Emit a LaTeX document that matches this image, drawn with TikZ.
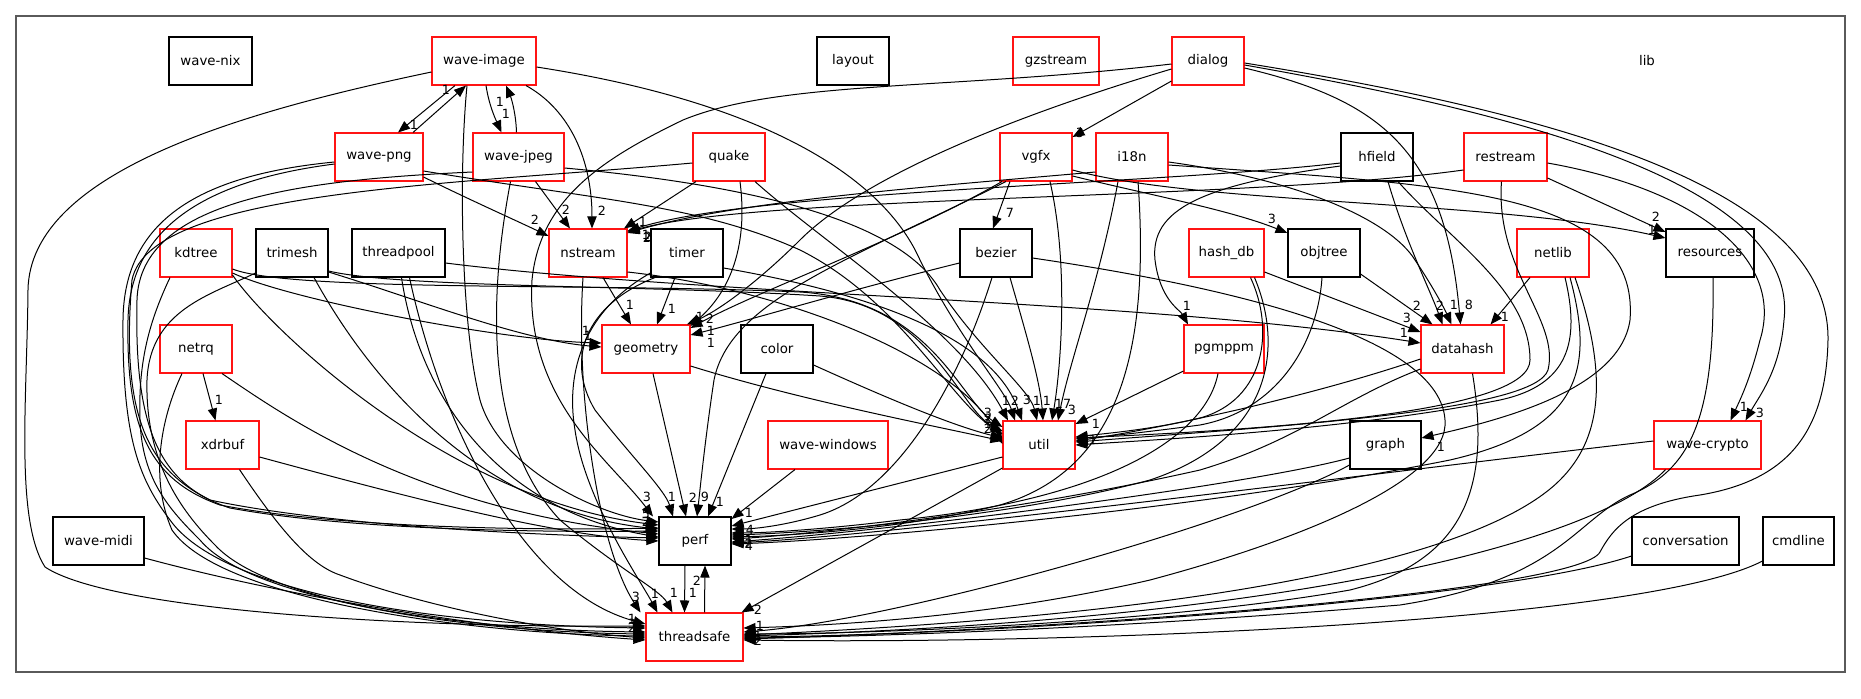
\documentclass[tikz,border=0pt]{standalone}
\usepackage{fontspec}
\setmainfont{DejaVu Sans}
\usetikzlibrary{arrows.meta}
\definecolor{framegray}{RGB}{90,90,90}
\definecolor{nodered}{RGB}{255,20,20}
\begin{document}
\begin{tikzpicture}[x=0.75pt,y=-0.75pt,
  box/.style={draw=black,line width=0.8pt,fill=white,minimum height=36pt,inner sep=2pt,font=\fontsize{10}{12}\selectfont},
  rbox/.style={box,draw=nodered},
  e/.style={draw=black,line width=0.75pt,-{Triangle[length=9pt,width=7pt]}},
  lbl/.style={font=\fontsize{9.5}{11}\selectfont,inner sep=0pt},
  frm/.style={draw=framegray,line width=1pt}]
\useasboundingbox (0,0) rectangle (1861,699);
\draw[frm] (16,16) rectangle (1845,672);
\node[font=\fontsize{10}{12}\selectfont] (lib) at (1647,61) {lib};
% row 1
\node[box,minimum width=62.25pt] (wnix) at (210.5,61) {wave-nix};
\node[rbox,minimum width=78pt] (wimg) at (484,61) {wave-image};
\node[box,minimum width=54pt] (layout) at (853,61) {layout};
\node[rbox,minimum width=64.5pt] (gz) at (1056,61) {gzstream};
\node[rbox,minimum width=54pt] (dialog) at (1208,61) {dialog};
% row 2
\node[rbox,minimum width=66pt] (wpng) at (379,157) {wave-png};
\node[rbox,minimum width=68.25pt] (wjpeg) at (518.5,157) {wave-jpeg};
\node[rbox,minimum width=54pt] (quake) at (729,157) {quake};
\node[rbox,minimum width=54pt] (vgfx) at (1036,157) {vgfx};
\node[rbox,minimum width=54pt] (i18n) at (1132,157) {i18n};
\node[box,minimum width=54pt] (hfield) at (1377,157) {hfield};
\node[rbox,minimum width=62.25pt] (restream) at (1505.5,157) {restream};
% row 3
\node[rbox,minimum width=54pt] (kdtree) at (196,253) {kdtree};
\node[box,minimum width=54pt] (trimesh) at (292,253) {trimesh};
\node[box,minimum width=69.75pt] (tpool) at (398.5,253) {threadpool};
\node[rbox,minimum width=58.5pt] (nstream) at (588,253) {nstream};
\node[box,minimum width=54pt] (timer) at (687,253) {timer};
\node[box,minimum width=54pt] (bezier) at (996,253) {bezier};
\node[rbox,minimum width=56.25pt] (hashdb) at (1226.5,253) {hash\_db};
\node[box,minimum width=54pt] (objtree) at (1324,253) {objtree};
\node[rbox,minimum width=54pt] (netlib) at (1553,253) {netlib};
\node[box,minimum width=66pt] (resources) at (1710,253) {resources};
% row 4
\node[rbox,minimum width=54pt] (netrq) at (196,349) {netrq};
\node[rbox,minimum width=66pt] (geometry) at (646,349) {geometry};
\node[box,minimum width=54pt] (color) at (777,349) {color};
\node[rbox,minimum width=60pt] (pgmppm) at (1224,349) {pgmppm};
\node[rbox,minimum width=62.25pt] (datahash) at (1462.5,349) {datahash};
% row 5
\node[rbox,minimum width=54.75pt] (xdrbuf) at (222.5,445) {xdrbuf};
\node[rbox,minimum width=90pt] (wwin) at (828,445) {wave-windows};
\node[rbox,minimum width=54pt] (util) at (1039,445) {util};
\node[box,minimum width=53.25pt] (graph) at (1385.5,445) {graph};
\node[rbox,minimum width=80.25pt] (wcrypto) at (1707.5,445) {wave-crypto};
% row 6
\node[box,minimum width=68.25pt] (wmidi) at (98.5,541) {wave-midi};
\node[box,minimum width=54pt] (perf) at (695,541) {perf};
\node[box,minimum width=80.25pt] (conv) at (1685.5,541) {conversation};
\node[box,minimum width=53.25pt] (cmdline) at (1798.5,541) {cmdline};
% row 7
\node[rbox,minimum width=72.75pt] (tsafe) at (694.5,637) {threadsafe};

% ---- edges: top part
\draw[e] ([shift={(-29,0)}]wimg.south) -- ([shift={(19,0)}]wpng.north) node[lbl,at={(414,125)}]{1};
\draw[e] ([shift={(34,0)}]wpng.north) -- ([shift={(-18,0)}]wimg.south) node[lbl,at={(446,90)}]{1};
\draw[e] ([shift={(2,0)}]wimg.south) .. controls (489,105) and (495,118) .. ([shift={(-17,0)}]wjpeg.north) node[lbl,at={(506,114)}]{1};
\draw[e] ([shift={(-2,0)}]wjpeg.north) .. controls (516,115) and (512,100) .. ([shift={(22,0)}]wimg.south) node[lbl,at={(500,102)}]{1};
\draw[e] ([shift={(42,0)}]wimg.south) .. controls (570,110) and (592,160) .. ([shift={(4,0)}]nstream.north) node[lbl,at={(602,211)}]{2};
\draw[e] ([shift={(0,20)}]wpng.east) .. controls (470,200) and (515,220) .. ([shift={(0,-17)}]nstream.west) node[lbl,at={(535,220)}]{2};
\draw[e] ([shift={(17,0)}]wjpeg.south) -- ([shift={(-18,0)}]nstream.north) node[lbl,at={(566,210)}]{2};
\draw[e] ([shift={(-33,0)}]quake.south) -- ([shift={(36,0)}]nstream.north) node[lbl,at={(643,222)}]{1};
\draw[e] ([shift={(0,6)}]hfield.west) .. controls (1150,185) and (760,190) .. ([shift={(0,-22)}]nstream.east) node[lbl,at={(646,235)}]{1};
\draw[e] ([shift={(0,13)}]restream.west) .. controls (1250,200) and (760,195) .. ([shift={(0,-21)}]nstream.east) node[lbl,at={(648,237)}]{2};
\draw[e] ([shift={(0,15)}]i18n.west) .. controls (950,185) and (740,200) .. ([shift={(0,-20)}]nstream.east) node[lbl,at={(647,238)}]{2};
\draw[e] ([shift={(0,20)}]dialog.west) -- ([shift={(0,-20)}]vgfx.east) node[lbl,at={(1080,133)}]{3};
\draw[e] ([shift={(0,8)}]dialog.west) .. controls (1000,120) and (860,180) .. (800,240) .. controls (760,280) and (720,310) .. ([shift={(41,0)}]geometry.north) node[lbl,at={(700,317)}]{1};
\draw[e] ([shift={(0,3)}]dialog.west) .. controls (950,90) and (780,80) .. (683,120) .. controls (600,160) and (540,200) .. (532,280) .. controls (525,400) and (610,460) .. ([shift={(-42,0)}]perf.north) node[lbl,at={(647,497)}]{3};
\draw[e] ([shift={(0,7)}]dialog.east) .. controls (1380,100) and (1445,150) .. ([shift={(-2,0)}]datahash.north) node[lbl,at={(1469,305)}]{8};
\draw[e] ([shift={(0,4)}]dialog.east) .. controls (1500,110) and (1800,180) .. (1784,320) .. controls (1780,370) and (1760,395) .. ([shift={(38,0)}]wcrypto.north) node[lbl,at={(1760,413)}]{3};
\draw[e] ([shift={(0,2)}]dialog.east) .. controls (1600,120) and (1830,200) .. (1828,340) .. controls (1826,430) and (1790,480) .. (1700,495) .. controls (1630,505) and (1612,530) .. (1600,552) .. controls (1580,590) and (1100,628) .. ([shift={(0,2)}]tsafe.east);
\draw[e] ([shift={(-26,0)}]vgfx.south) -- ([shift={(-3,0)}]bezier.north) node[lbl,at={(1010,213)}]{7};
\draw[e] ([shift={(0,19)}]vgfx.east) .. controls (1150,195) and (1230,210) .. ([shift={(0,-20)}]objtree.west) node[lbl,at={(1272,219)}]{3};
\draw[e] ([shift={(0,13)}]vgfx.east) .. controls (1200,205) and (1500,200) .. ([shift={(0,-15)}]resources.west) node[lbl,at={(1652,230)}]{1};
\draw[e] ([shift={(-34,0)}]vgfx.south) .. controls (900,240) and (760,290) .. ([shift={(0,-21)}]geometry.east) node[lbl,at={(710,319)}]{2};
\draw[e] ([shift={(14,0)}]vgfx.south) .. controls (1068,260) and (1062,360) .. ([shift={(13,0)}]util.north) node[lbl,at={(1063,404)}]{17};
\draw[e] ([shift={(-30,0)}]vgfx.south) .. controls (850,260) and (730,300) .. (714,380) .. controls (705,440) and (700,490) .. ([shift={(2,0)}]perf.north) node[lbl,at={(705,497)}]{9};
\draw[e] ([shift={(-14,0)}]i18n.south) .. controls (1100,280) and (1070,360) .. ([shift={(19,0)}]util.north) node[lbl,at={(1072,410)}]{3};
\draw[e] ([shift={(6,0)}]i18n.south) .. controls (1150,350) and (1120,470) .. (1000,505) .. controls (900,530) and (780,536) .. ([shift={(0,-4)}]perf.east);
\draw[e] ([shift={(0,5)}]i18n.east) .. controls (1300,180) and (1390,220) .. (1415,260) .. controls (1435,290) and (1445,310) .. ([shift={(-11,0)}]datahash.north) node[lbl,at={(1454,305)}]{1};
\draw[e] ([shift={(0,8)}]i18n.east) .. controls (1450,185) and (1640,190) .. (1630,320) .. controls (1620,390) and (1500,420) .. ([shift={(0,-7)}]graph.east) node[lbl,at={(1441,447)}]{1};
\draw[e] ([shift={(11,0)}]hfield.south) .. controls (1405,240) and (1430,290) .. ([shift={(-20,0)}]datahash.north) node[lbl,at={(1440,306)}]{2};
\draw[e] ([shift={(0,9)}]hfield.west) .. controls (1200,185) and (1150,210) .. (1155,260) .. controls (1160,300) and (1180,310) .. ([shift={(-36,0)}]pgmppm.north) node[lbl,at={(1187,306)}]{1};
\draw[e] ([shift={(21,0)}]hfield.south) .. controls (1450,240) and (1530,290) .. (1530,360) .. controls (1530,410) and (1300,428) .. ([shift={(0,-7)}]util.east);
\draw[e] ([shift={(0,21)}]restream.east) -- ([shift={(0,-21)}]resources.west) node[lbl,at={(1656,217)}]{2};
\draw[e] ([shift={(0,6)}]restream.east) .. controls (1700,190) and (1785,260) .. (1760,340) .. controls (1750,380) and (1740,400) .. ([shift={(23,0)}]wcrypto.north) node[lbl,at={(1744,407)}]{1};
\draw[e] ([shift={(-4,0)}]restream.south) .. controls (1495,270) and (1560,320) .. (1548,370) .. controls (1535,410) and (1300,425) .. ([shift={(0,-3)}]util.east);
\draw[e] ([shift={(-23,0)}]netlib.south) -- ([shift={(28,0)}]datahash.north) node[lbl,at={(1505,317)}]{1};
\draw[e] ([shift={(12,0)}]netlib.south) .. controls (1580,340) and (1570,385) .. (1500,400) .. controls (1350,430) and (1150,440) .. (util.east);
\draw[e] ([shift={(17,0)}]netlib.south) .. controls (1595,370) and (1580,430) .. (1450,460) .. controls (1200,510) and (850,540) .. ([shift={(0,3)}]perf.east);
\draw[e] ([shift={(22,0)}]netlib.south) .. controls (1610,380) and (1600,440) .. (1560,480) .. controls (1500,540) and (1300,610) .. ([shift={(0,-2)}]tsafe.east);
\draw[e] ([shift={(3,0)}]resources.south) .. controls (1715,420) and (1690,470) .. (1630,495) .. controls (1575,520) and (1560,580) .. (1400,605) .. controls (1100,630) and (850,637) .. ([shift={(0,1)}]tsafe.east);
\draw[e] ([shift={(0,21)}]objtree.east) -- ([shift={(-30,0)}]datahash.north) node[lbl,at={(1417,306)}]{2};
\draw[e] ([shift={(-2,0)}]objtree.south) .. controls (1318,340) and (1280,410) .. (1200,425) .. controls (1140,433) and (1100,437) .. ([shift={(0,-6)}]util.east);
\draw[e] ([shift={(0,19)}]hashdb.east) -- ([shift={(0,-17)}]datahash.west) node[lbl,at={(1407,318)}]{3};
\draw[e] ([shift={(24,0)}]hashdb.south) .. controls (1275,330) and (1265,400) .. (1200,418) .. controls (1150,430) and (1100,434) .. ([shift={(0,-8)}]util.east);
\draw[e] ([shift={(28,0)}]hashdb.south) .. controls (1285,350) and (1270,440) .. (1150,480) .. controls (1000,520) and (800,533) .. ([shift={(0,-6)}]perf.east);
\draw[e] ([shift={(0,10)}]tpool.east) .. controls (700,295) and (1150,300) .. ([shift={(0,-6)}]datahash.west) node[lbl,at={(1404,333)}]{1};
\draw[e] ([shift={(0,10)}]bezier.west) .. controls (850,290) and (750,320) .. ([shift={(0,-14)}]geometry.east) node[lbl,at={(711,343)}]{1};
\draw[e] ([shift={(14,0)}]bezier.south) .. controls (1025,330) and (1040,380) .. ([shift={(4,0)}]util.north) node[lbl,at={(1047,401)}]{1};
\draw[e] ([shift={(-4,0)}]bezier.south) .. controls (960,380) and (900,490) .. (820,515) .. controls (780,527) and (750,529) .. ([shift={(0,-12)}]perf.east);
\draw[e] ([shift={(0,5)}]bezier.east) .. controls (1250,290) and (1440,340) .. (1445,420) .. controls (1450,480) and (1300,540) .. (1150,580) .. controls (1000,615) and (850,625) .. ([shift={(0,-9)}]tsafe.east) node[lbl,at={(760,626)}]{1};
\draw[e] ([shift={(-12,0)}]timer.south) -- ([shift={(11,0)}]geometry.north) node[lbl,at={(672,309)}]{1};
\draw[e] ([shift={(0,15)}]timer.east) .. controls (850,290) and (990,330) .. ([shift={(-17,0)}]util.north) node[lbl,at={(1027,400)}]{3};
\draw[e] ([shift={(-32,0)}]timer.south) .. controls (585,305) and (565,360) .. (595,410) .. controls (630,455) and (665,490) .. ([shift={(-22,0)}]perf.north) node[lbl,at={(672,497)}]{1};
\draw[e] ([shift={(0,20)}]timer.west) .. controls (585,310) and (565,370) .. (575,430) .. controls (585,500) and (640,580) .. ([shift={(-37,0)}]tsafe.north) node[lbl,at={(655,594)}]{1};
\draw[e] ([shift={(15,0)}]nstream.south) -- ([shift={(-15,0)}]geometry.north) node[lbl,at={(630,305)}]{1};
\draw[e] ([shift={(-5,0)}]nstream.south) .. controls (575,400) and (600,550) .. ([shift={(-54,0)}]tsafe.north) node[lbl,at={(636,597)}]{3};
\draw[e] ([shift={(0,19)}]nstream.east) .. controls (790,290) and (960,360) .. ([shift={(0,-1)}]util.west);
\draw[e] ([shift={(11,0)}]quake.south) .. controls (750,260) and (720,300) .. ([shift={(0,-23)}]geometry.east) node[lbl,at={(711,331)}]{1};
\draw[e] ([shift={(26,0)}]quake.south) .. controls (820,240) and (960,330) .. ([shift={(-31,0)}]util.north) node[lbl,at={(1006,401)}]{1};
\draw[e] ([shift={(0,6)}]quake.west) .. controls (450,185) and (150,190) .. (132,280) .. controls (120,420) and (150,470) .. (210,500) .. controls (340,528) and (570,536) .. ([shift={(0,-3)}]perf.west);
% ---- left sweeps
\draw[e] ([shift={(0,11)}]wimg.west) .. controls (250,110) and (30,170) .. (28,290) .. controls (27,400) and (15,520) .. (45,567) .. controls (110,610) and (400,628) .. ([shift={(0,-11)}]tsafe.west) node[lbl,at={(632,619)}]{1};
\draw[e] ([shift={(-17,0)}]wimg.south) .. controls (458,180) and (462,330) .. (480,400) .. controls (500,470) and (600,515) .. ([shift={(0,-19)}]perf.west) node[lbl,at={(646,514)}]{5};
\draw[e] ([shift={(0,5)}]wpng.west) .. controls (200,175) and (124,220) .. (123,320) .. controls (122,440) and (140,480) .. (170,520) .. controls (220,590) and (420,625) .. ([shift={(0,-9)}]tsafe.west) node[lbl,at={(632,624)}]{3};
\draw[e] ([shift={(0,7)}]wpng.west) .. controls (210,180) and (130,225) .. (128,320) .. controls (126,430) and (150,480) .. (220,505) .. controls (350,530) and (560,530) .. ([shift={(0,-13)}]perf.west) node[lbl,at={(646,522)}]{2};
\draw[e] ([shift={(0,15)}]wjpeg.west) .. controls (300,180) and (140,200) .. (137,300) .. controls (134,430) and (160,485) .. (230,508) .. controls (360,532) and (570,532) .. ([shift={(0,-10)}]perf.west) node[lbl,at={(646,528)}]{1};
\draw[e] ([shift={(-8,0)}]wjpeg.south) .. controls (488,300) and (485,440) .. (560,520) .. controls (620,570) and (660,590) .. ([shift={(-22,0)}]tsafe.north) node[lbl,at={(674,593)}]{1};
\draw[e] ([shift={(0,14)}]wpng.east) .. controls (600,200) and (700,205) .. (800,250) .. controls (900,300) and (950,400) .. ([shift={(0,-11)}]util.west) node[lbl,at={(988,419)}]{2};
\draw[e] ([shift={(0,11)}]wjpeg.east) .. controls (750,185) and (900,220) .. (940,290) .. controls (980,350) and (1030,390) .. ([shift={(-2,0)}]util.north) node[lbl,at={(1037,401)}]{1};
\draw[e] ([shift={(0,6)}]wimg.east) .. controls (750,100) and (880,170) .. (920,260) .. controls (960,340) and (1005,390) .. ([shift={(-24,0)}]util.north) node[lbl,at={(1015,401)}]{2};
\draw[e] ([shift={(0,20)}]kdtree.east) .. controls (290,300) and (500,340) .. ([shift={(0,-6)}]geometry.west) node[lbl,at={(586,331)}]{1};
\draw[e] ([shift={(0,19)}]trimesh.east) .. controls (420,300) and (520,340) .. ([shift={(0,-2)}]geometry.west) node[lbl,at={(588,336)}]{1};
\draw[e] ([shift={(0,16)}]kdtree.east) .. controls (290,292) and (600,283) .. (800,292) .. controls (930,300) and (960,400) .. ([shift={(0,-18)}]util.west) node[lbl,at={(988,413)}]{3};
\draw[e] ([shift={(0,18)}]trimesh.east) .. controls (400,288) and (650,285) .. (820,296) .. controls (930,305) and (960,410) .. ([shift={(0,-14)}]util.west) node[lbl,at={(988,424)}]{1};
\draw[e] ([shift={(0,17)}]geometry.east) .. controls (800,400) and (930,425) .. ([shift={(0,-4)}]util.west);
\draw[e] ([shift={(0,16)}]color.east) .. controls (880,395) and (950,425) .. ([shift={(0,-7)}]util.west) node[lbl,at={(988,429)}]{2};
\draw[e] ([shift={(7,0)}]geometry.south) -- ([shift={(-9,0)}]perf.north) node[lbl,at={(693,498)}]{2};
\draw[e] ([shift={(-11,0)}]color.south) -- ([shift={(13,0)}]perf.north) node[lbl,at={(720,502)}]{1};
\draw[e] ([shift={(-33,0)}]wwin.south) -- ([shift={(0,-22)}]perf.east) node[lbl,at={(749,513)}]{1};
\draw[e] ([shift={(0,12)}]util.west) -- ([shift={(0,-15)}]perf.east) node[lbl,at={(750,530)}]{4};
\draw[e] ([shift={(0,23)}]util.west) -- ([shift={(47,0)}]tsafe.north) node[lbl,at={(758,610)}]{2};
\draw[e] ([shift={(0,22)}]pgmppm.west) -- ([shift={(0,-21)}]util.east) node[lbl,at={(1096,424)}]{1};
\draw[e] ([shift={(-6,0)}]pgmppm.south) .. controls (1205,440) and (1100,500) .. (900,520) .. controls (820,530) and (760,533) .. ([shift={(0,-8)}]perf.east) node[lbl,at={(749,540)}]{1};
\draw[e] ([shift={(0,10)}]datahash.west) .. controls (1300,400) and (1150,430) .. ([shift={(0,-4)}]util.east) node[lbl,at={(1093,440)}]{1};
\draw[e] ([shift={(0,20)}]datahash.west) .. controls (1340,400) and (1300,440) .. (1200,470) .. controls (1000,515) and (800,535) .. ([shift={(0,-2)}]perf.east) node[lbl,at={(749,544)}]{2};
\draw[e] ([shift={(10,0)}]datahash.south) .. controls (1490,480) and (1470,560) .. (1350,590) .. controls (1150,625) and (850,634) .. ([shift={(0,-3)}]tsafe.east) node[lbl,at={(758,636)}]{1};
\draw[e] ([shift={(0,13)}]graph.west) .. controls (1250,485) and (900,530) .. ([shift={(0,1)}]perf.east) node[lbl,at={(749,546)}]{4};
\draw[e] ([shift={(0,20)}]graph.west) .. controls (1250,520) and (900,620) .. ([shift={(0,-5)}]tsafe.east);
\draw[e] ([shift={(0,-4)}]wcrypto.west) .. controls (1400,470) and (900,535) .. ([shift={(0,2)}]perf.east);
\draw[e] ([shift={(-42,0)}]wcrypto.south) .. controls (1600,540) and (1300,620) .. ([shift={(0,-1)}]tsafe.east) node[lbl,at={(758,641)}]{2};
\draw[e] ([shift={(0,15)}]conv.west) .. controls (1500,600) and (1000,635) .. (tsafe.east);
\draw[e] ([shift={(0,20)}]cmdline.west) .. controls (1650,620) and (1100,645) .. ([shift={(0,3)}]tsafe.east);
\draw[e] ([shift={(0,17)}]wmidi.east) .. controls (300,600) and (500,630) .. ([shift={(0,3)}]tsafe.west);
\draw[e] ([shift={(-26,0)}]kdtree.south) .. controls (150,320) and (138,360) .. (140,420) .. controls (142,480) and (170,510) .. (200,540) .. controls (250,600) and (460,630) .. ([shift={(0,-5)}]tsafe.west) node[lbl,at={(632,628)}]{2};
\draw[e] ([shift={(0,20)}]trimesh.west) .. controls (210,295) and (150,310) .. (147,380) .. controls (145,460) and (180,510) .. (215,545) .. controls (270,605) and (480,632) .. ([shift={(0,-3)}]tsafe.west);
\draw[e] ([shift={(-14,0)}]netrq.south) .. controls (160,420) and (150,480) .. (172,530) .. controls (220,600) and (470,634) .. ([shift={(0,-1)}]tsafe.west);
\draw[e] ([shift={(26,0)}]netrq.south) .. controls (290,420) and (420,510) .. ([shift={(0,-7)}]perf.west);
\draw[e] ([shift={(0,12)}]xdrbuf.east) .. controls (400,495) and (550,535) .. (perf.west);
\draw[e] ([shift={(17,0)}]xdrbuf.south) .. controls (280,530) and (310,565) .. (340,575) .. controls (420,605) and (540,630) .. ([shift={(0,1)}]tsafe.west);
\draw[e] ([shift={(7,0)}]netrq.south) -- ([shift={(-7,0)}]xdrbuf.north) node[lbl,at={(219,400)}]{1};
\draw[e] ([shift={(3,0)}]tpool.south) .. controls (420,400) and (500,510) .. ([shift={(0,-4)}]perf.west);
\draw[e] ([shift={(11,0)}]tpool.south) .. controls (440,420) and (520,590) .. ([shift={(0,-13)}]tsafe.west);
\draw[e] ([shift={(0,22)}]kdtree.east) .. controls (270,330) and (450,500) .. ([shift={(0,-16)}]perf.west);
\draw[e] ([shift={(22,0)}]trimesh.south) .. controls (370,380) and (480,510) .. ([shift={(0,-12)}]perf.west);
\draw[e] ([shift={(-10,0)}]perf.south) -- ([shift={(-10,0)}]tsafe.north) node[lbl,at={(693,593)}]{1};
\draw[e] ([shift={(10,0)}]tsafe.north) -- ([shift={(10,0)}]perf.south) node[lbl,at={(697,581)}]{2};
\end{tikzpicture}
\end{document}
